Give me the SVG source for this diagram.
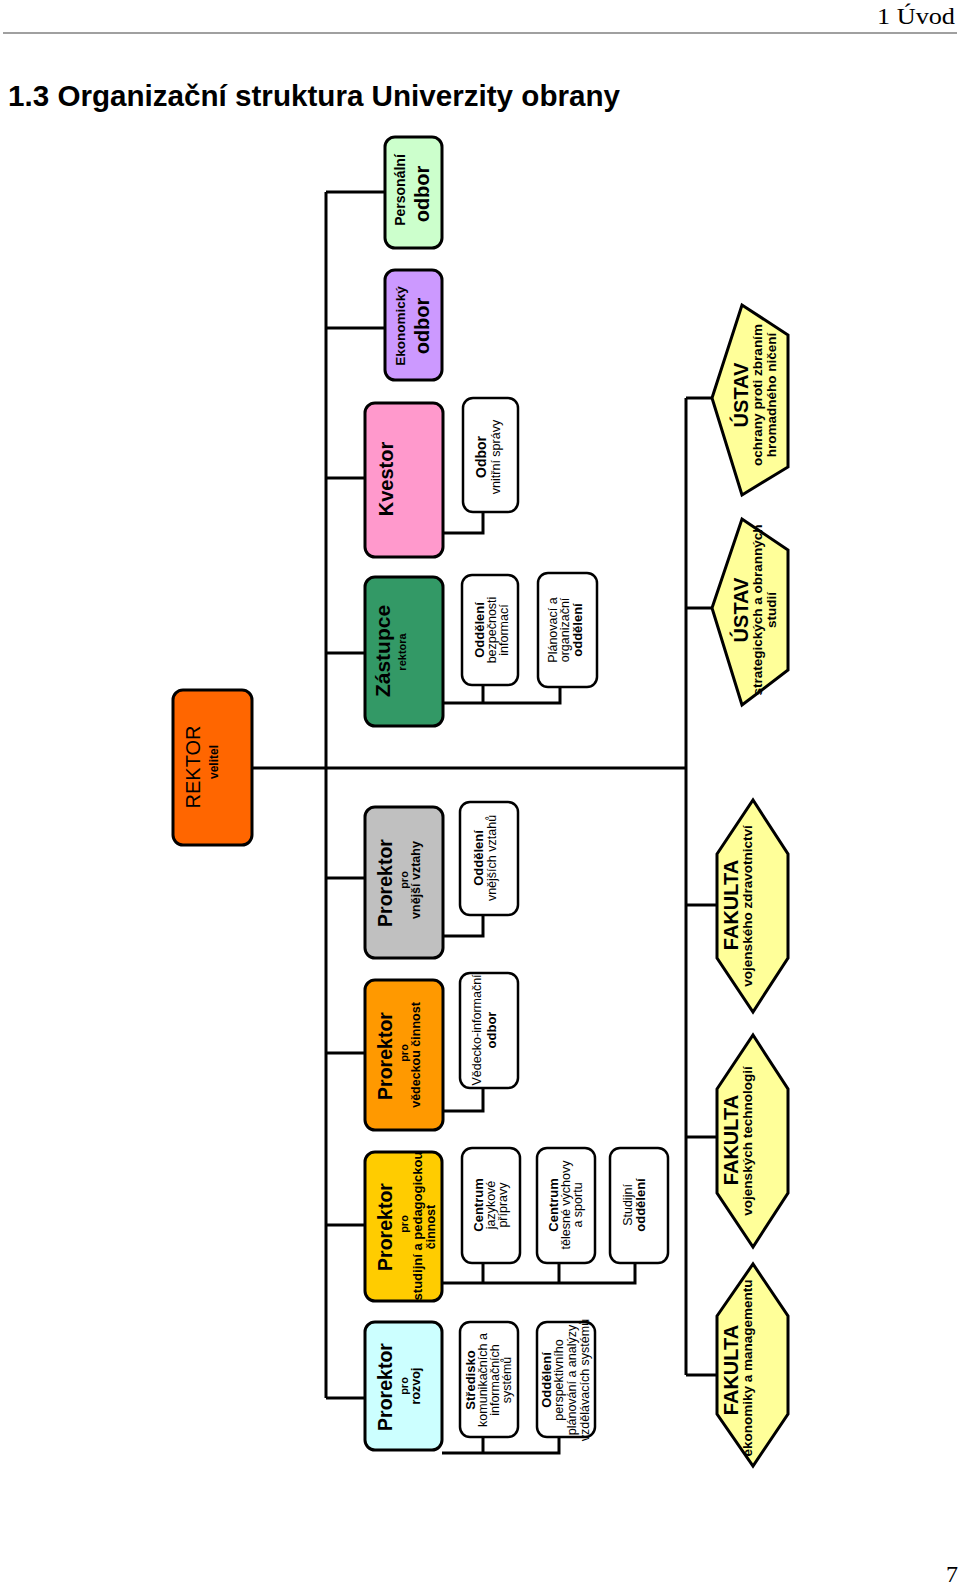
<svg xmlns="http://www.w3.org/2000/svg" width="960" height="1584" viewBox="0 0 960 1584">
<style>
text{font-family:"Liberation Sans",Arial,sans-serif;fill:#000;text-anchor:middle}
.box{stroke:#000;stroke-width:3}
.sub{fill:#fff;stroke:#000;stroke-width:2.5}
.hex{fill:#FFFF99;stroke:#000;stroke-width:3;stroke-linejoin:miter}
.con line,.con polyline{stroke:#000;stroke-width:3;fill:none}
.big{font-size:19.5px;font-weight:bold}
.s11{font-size:11px;font-weight:bold}
.s12{font-size:12.5px;font-weight:bold}
.r{font-size:12.5px}
.rb{font-size:13px;font-weight:bold}
.h18{font-size:20px;font-weight:bold}
.h13{font-size:13.5px;font-weight:bold}
</style>
<rect width="960" height="1584" fill="#fff"/>
<g id="header">
<text x="955" y="24" textLength="78" lengthAdjust="spacingAndGlyphs" style="font-family:'Liberation Serif',serif;font-size:24px;text-anchor:end">1 Úvod</text>
<line x1="3" y1="33" x2="957" y2="33" stroke="#808080" stroke-width="1.6"/>
<text x="8" y="106" textLength="612" lengthAdjust="spacingAndGlyphs" style="font-size:29px;font-weight:bold;text-anchor:start">1.3 Organizační struktura Univerzity obrany</text>
<text x="958" y="1582" style="font-family:'Liberation Serif',serif;font-size:24px;text-anchor:end">7</text>
</g>
<g id="connectors" class="con">
<line x1="252" y1="768" x2="686" y2="768"/>
<line x1="326" y1="192" x2="326" y2="1398"/>
<line x1="326" y1="192" x2="385" y2="192"/>
<line x1="326" y1="328" x2="385" y2="328"/>
<line x1="326" y1="478" x2="365" y2="478"/>
<line x1="326" y1="653" x2="365" y2="653"/>
<line x1="326" y1="878" x2="365" y2="878"/>
<line x1="326" y1="1053" x2="365" y2="1053"/>
<line x1="326" y1="1225" x2="365" y2="1225"/>
<line x1="326" y1="1398" x2="365" y2="1398"/>
<polyline points="443,533 483,533 483,512"/>
<polyline points="443,703 560,703 560,687"/>
<line x1="483" y1="703" x2="483" y2="685"/>
<polyline points="443,936 483,936 483,915"/>
<polyline points="443,1111 483,1111 483,1088"/>
<polyline points="442,1283 635,1283 635,1263"/>
<line x1="483" y1="1283" x2="483" y2="1263"/>
<line x1="559" y1="1283" x2="559" y2="1263"/>
<polyline points="442,1453 559,1453 559,1437"/>
<line x1="483" y1="1453" x2="483" y2="1437"/>
<line x1="686" y1="398" x2="686" y2="1375"/>
<line x1="686" y1="398" x2="712" y2="398"/>
<line x1="686" y1="608" x2="712" y2="608"/>
<line x1="686" y1="905" x2="717" y2="905"/>
<line x1="686" y1="1137" x2="717" y2="1137"/>
<line x1="686" y1="1375" x2="717" y2="1375"/>
</g>
<g id="rektor">
<rect class="box" x="173" y="690" width="79" height="155" rx="10" fill="#FF6600"/>
<text transform="translate(200,767) rotate(-90)" style="font-size:20px">REKTOR</text>
<text transform="translate(218,762) rotate(-90)" style="font-size:12px;font-weight:bold">velitel</text>
</g>
<g id="personalni">
<rect class="box" x="385" y="137" width="57" height="111" rx="10" fill="#CCFFCC"/>
<text transform="translate(405,190) rotate(-90)" style="font-size:14px;font-weight:bold">Personální</text>
<text transform="translate(429,194) rotate(-90)" style="font-size:20px;font-weight:bold">odbor</text>
</g>
<g id="ekonomicky">
<rect class="box" x="385" y="270" width="57" height="110" rx="10" fill="#CC99FF"/>
<text transform="translate(405,326) rotate(-90)" style="font-size:13.5px;font-weight:bold">Ekonomický</text>
<text transform="translate(429,326) rotate(-90)" style="font-size:20px;font-weight:bold">odbor</text>
</g>
<g id="kvestor">
<rect class="box" x="365" y="403" width="78" height="154" rx="10" fill="#FF99CC"/>
<text transform="translate(393,479) rotate(-90)" style="font-size:20px;font-weight:bold">Kvestor</text>
</g>
<g id="zastupce">
<rect class="box" x="365" y="577" width="78" height="149" rx="10" fill="#339966"/>
<text transform="translate(390,651) rotate(-90)" style="font-size:21px;font-weight:bold">Zástupce</text>
<text transform="translate(406,652) rotate(-90)" class="s11">rektora</text>
</g>
<g id="prorektor-vnejsi">
<rect class="box" x="365" y="807" width="78" height="151" rx="10" fill="#C0C0C0"/>
<text transform="translate(392,883) rotate(-90)" class="big">Prorektor</text>
<text transform="translate(408,880) rotate(-90)" class="s11">pro</text>
<text transform="translate(420,880) rotate(-90)" class="s12">vnější vztahy</text>
</g>
<g id="prorektor-vedecka">
<rect class="box" x="365" y="980" width="78" height="150" rx="10" fill="#FF9900"/>
<text transform="translate(392,1056) rotate(-90)" class="big">Prorektor</text>
<text transform="translate(408,1053) rotate(-90)" class="s11">pro</text>
<text transform="translate(420,1055) rotate(-90)" class="s12">vědeckou činnost</text>
</g>
<g id="prorektor-studijni">
<rect class="box" x="365" y="1152" width="77" height="149" rx="10" fill="#FFCC00"/>
<text transform="translate(392,1227) rotate(-90)" class="big">Prorektor</text>
<text transform="translate(408,1224) rotate(-90)" class="s11">pro</text>
<text transform="translate(422,1226) rotate(-90)" class="rb">studijní a pedagogickou</text>
<text transform="translate(435,1227) rotate(-90)" class="s12">činnost</text>
</g>
<g id="prorektor-rozvoj">
<rect class="box" x="365" y="1322" width="77" height="128" rx="10" fill="#CCFFFF"/>
<text transform="translate(392,1387) rotate(-90)" class="big">Prorektor</text>
<text transform="translate(408,1386) rotate(-90)" class="s11">pro</text>
<text transform="translate(420,1386) rotate(-90)" class="s12">rozvoj</text>
</g>
<g id="odbor-vnitrni-spravy">
<rect class="sub" x="463" y="398" width="55" height="114" rx="10"/>
<text transform="translate(486,457) rotate(-90)" style="font-size:14px;font-weight:bold">Odbor</text>
<text transform="translate(500,457) rotate(-90)" class="r">vnitřní správy</text>
</g>
<g id="oddeleni-bezpecnosti">
<rect class="sub" x="462" y="575" width="56" height="110" rx="10"/>
<text transform="translate(484,630) rotate(-90)" class="rb">Oddělení</text>
<text transform="translate(496,630) rotate(-90)" class="r">bezpečnosti</text>
<text transform="translate(508,630) rotate(-90)" class="r">informací</text>
</g>
<g id="planovaci-oddeleni">
<rect class="sub" x="538" y="573" width="59" height="114" rx="10"/>
<text transform="translate(557,630) rotate(-90)" class="r">Plánovací a</text>
<text transform="translate(569,630) rotate(-90)" class="r">organizační</text>
<text transform="translate(582,630) rotate(-90)" class="rb">oddělení</text>
</g>
<g id="oddeleni-vnejsich-vztahu">
<rect class="sub" x="460" y="802" width="58" height="113" rx="10"/>
<text transform="translate(483,858) rotate(-90)" class="rb">Oddělení</text>
<text transform="translate(496,858) rotate(-90)" class="r">vnějších vztahů</text>
</g>
<g id="vedecko-informacni">
<rect class="sub" x="460" y="973" width="58" height="115" rx="10"/>
<text transform="translate(481,1030) rotate(-90)" class="r">Vědecko-informační</text>
<text transform="translate(496,1030) rotate(-90)" class="rb">odbor</text>
</g>
<g id="centrum-jazykove">
<rect class="sub" x="462" y="1148" width="58" height="115" rx="10"/>
<text transform="translate(483,1205) rotate(-90)" class="rb">Centrum</text>
<text transform="translate(495,1205) rotate(-90)" class="r">jazykové</text>
<text transform="translate(507,1205) rotate(-90)" class="r">přípravy</text>
</g>
<g id="centrum-telesne">
<rect class="sub" x="537" y="1148" width="58" height="115" rx="10"/>
<text transform="translate(558,1205) rotate(-90)" class="rb">Centrum</text>
<text transform="translate(570,1205) rotate(-90)" class="r">tělesné výchovy</text>
<text transform="translate(582,1205) rotate(-90)" class="r">a sportu</text>
</g>
<g id="studijni-oddeleni">
<rect class="sub" x="610" y="1148" width="58" height="115" rx="10"/>
<text transform="translate(632,1205) rotate(-90)" class="r">Studijní</text>
<text transform="translate(645,1205) rotate(-90)" class="rb">oddělení</text>
</g>
<g id="stredisko">
<rect class="sub" x="460" y="1322" width="58" height="115" rx="10"/>
<text transform="translate(475,1380) rotate(-90)" class="rb">Středisko</text>
<text transform="translate(487,1380) rotate(-90)" class="r">komunikačních a</text>
<text transform="translate(499,1380) rotate(-90)" class="r">informačních</text>
<text transform="translate(511,1380) rotate(-90)" class="r">systémů</text>
</g>
<g id="oddeleni-perspektivniho">
<rect class="sub" x="537" y="1322" width="58" height="115" rx="10"/>
<text transform="translate(551,1380) rotate(-90)" class="rb">Oddělení</text>
<text transform="translate(563,1380) rotate(-90)" class="r">perspektivního</text>
<text transform="translate(576,1380) rotate(-90)" class="r">plánování a analýzy</text>
<text transform="translate(589,1380) rotate(-90)" class="r">vzdělávacích systémů</text>
</g>
<g id="ustav-ochrany">
<polygon class="hex" points="712,398 742,305 788,335 788,467 742,495"/>
<text transform="translate(748,395) rotate(-90)" class="h18">ÚSTAV</text>
<text transform="translate(762,395) rotate(-90)" class="h13">ochrany proti zbraním</text>
<text transform="translate(776,395) rotate(-90)" class="h13">hromadného ničení</text>
</g>
<g id="ustav-strategickych">
<polygon class="hex" points="712,608 742,519 788,550 788,670 742,705"/>
<text transform="translate(748,610) rotate(-90)" class="h18">ÚSTAV</text>
<text transform="translate(762,610) rotate(-90)" class="h13">strategických a obranných</text>
<text transform="translate(776,610) rotate(-90)" class="h13">studií</text>
</g>
<g id="fakulta-zdravotnictvi">
<polygon class="hex" points="717,854 753,800 788,854 788,958 753,1012 717,958"/>
<text transform="translate(738,905) rotate(-90)" class="h18">FAKULTA</text>
<text transform="translate(752,906) rotate(-90)" class="h13">vojenského zdravotnictví</text>
</g>
<g id="fakulta-technologii">
<polygon class="hex" points="717,1089 753,1035 788,1089 788,1193 753,1247 717,1193"/>
<text transform="translate(738,1140) rotate(-90)" class="h18">FAKULTA</text>
<text transform="translate(752,1141) rotate(-90)" class="h13">vojenských technologií</text>
</g>
<g id="fakulta-ekonomiky">
<polygon class="hex" points="717,1316 753,1264 788,1316 788,1414 753,1466 717,1414"/>
<text transform="translate(738,1370) rotate(-90)" class="h18">FAKULTA</text>
<text transform="translate(752,1368) rotate(-90)" class="h13">ekonomiky a managementu</text>
</g>
</svg>
